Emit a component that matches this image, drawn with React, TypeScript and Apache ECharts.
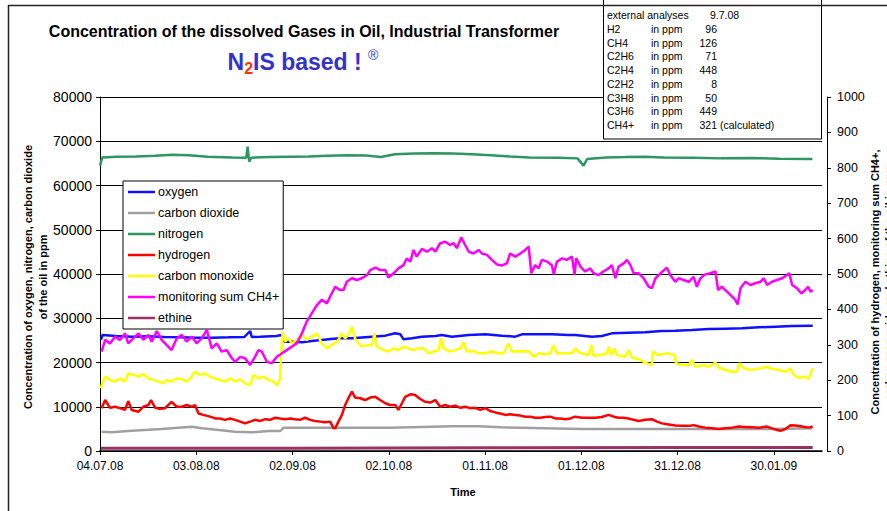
import React, { useEffect, useRef } from 'react';
import * as echarts from 'echarts';

const FONT = "'Liberation Sans', Arial, Helvetica, sans-serif";

// x values are days after 04.07.08
const xTickLabels = ['04.07.08', '03.08.08', '02.09.08', '02.10.08', '01.11.08', '01.12.08', '31.12.08', '30.01.09'];
const leftTicks = [0, 10000, 20000, 30000, 40000, 50000, 60000, 70000, 80000];
const rightTicks = [0, 100, 200, 300, 400, 500, 600, 700, 800, 900, 1000];

const seriesNames = ['oxygen', 'carbon dioxide', 'nitrogen', 'hydrogen', 'carbon monoxide', 'monitoring sum CH4+', 'ethine'];
const seriesColors = ['#1010ff', '#a0a0a0', '#2e9660', '#ff0000', '#ffff00', '#ff00ff', '#993366'];

const oxygen: [number, number][] = [[0.3,25090],[0.8,26220],[5,25990],[10,25840],[15,25920],[20,25770],[25,25690],[30,25620],[35,25620],[40,25690],[45,25770],[46.8,27120],[47.3,25770],[50,25840],[55,25990],[56.5,26220],[57.5,24710],[60,24710],[63,24560],[66,24860],[69,25090],[72,25310],[74.8,25460],[78.5,25460],[83.7,25770],[88.9,26070],[92,26590],[93.6,26370],[94.6,25240],[97.2,25460],[100.3,25840],[104.5,25990],[106.5,26220],[109.7,25840],[114.9,26220],[120.1,26370],[125.2,26070],[129.4,25840],[131.5,26370],[135.6,26370],[140.8,26370],[146,26220],[148.1,26220],[153.3,25840],[156.4,25990],[159.5,26590],[164.7,26750],[169.9,26820],[175.1,27120],[179.3,27200],[184.5,27350],[189.7,27570],[194.9,27650],[200.1,27720],[205.3,27950],[210.5,28100],[215.7,28250],[222.1,28330]];

const carbonDioxide: [number, number][] = [[0.5,4370],[3.6,4220],[8.8,4520],[14,4750],[19.2,4970],[24.4,5280],[28.6,5500],[31.7,5130],[37,4750],[42.1,4370],[47.3,4220],[52.5,4520],[56.2,4520],[57.2,5280],[63,5280],[69,5280],[75,5280],[90,5280],[100,5430],[110,5580],[118,5580],[125,5350],[135,5200],[150,4970],[165,4970],[180,4970],[195,4970],[210,4970],[222,5130]];

const nitrogen: [number, number][] = [[0,64500],[0.7,66350],[5.2,66500],[11.2,66570],[17.2,66720],[22.4,66930],[27.7,66860],[33.6,66500],[41.1,66350],[45.6,66280],[46,68760],[46.5,65400],[47.1,66280],[53.1,66420],[59.1,66500],[65,66570],[71,66720],[77,66860],[83,66790],[87.5,66420],[91.9,67080],[97.9,67230],[103.9,67300],[109.9,67230],[115.9,67080],[121.8,66860],[127.8,66570],[133.8,66350],[142.8,66280],[148.8,66130],[150.7,64500],[151.8,65990],[157.7,66350],[163.7,66420],[169.7,66500],[175.7,66350],[184.6,66280],[193.6,66130],[202.6,66200],[211.5,66060],[222,65990]];

const hydrogen: [number, number][] = [[0.5,121],[1.6,144],[3.1,122],[4.7,125],[6.2,121],[7.8,116],[8.8,141],[9.9,116],[12,111],[13.5,125],[15.1,130],[15.9,144],[17.2,122],[18.7,119],[20.3,121],[22.3,139],[23.9,125],[25.5,125],[27,130],[28.6,125],[29.6,130],[30.7,106],[32.2,102],[34.3,97],[35.9,92],[37.4,92],[39,88],[40.5,92],[42.1,88],[43.7,83],[45.2,78],[46.8,83],[48.3,88],[49.9,85],[51.5,90],[53,88],[54.6,94],[56.1,92],[57.7,90],[59.3,92],[60.8,90],[62.4,88],[63.9,94],[65.5,88],[67,85],[68.6,83],[70.2,81],[71.7,83],[72.8,64],[73.3,64],[74.3,83],[75.4,102],[76.4,130],[77.4,149],[78.5,168],[79.5,151],[81.1,149],[82.6,144],[84.2,151],[85.8,153],[87.3,144],[88.9,135],[90.4,130],[92,130],[93,116],[94.1,135],[95.1,153],[96.7,160],[98.2,158],[99.8,147],[101.3,139],[102.9,137],[104.5,144],[106,125],[107.6,130],[109.1,125],[110.7,128],[112.3,122],[113.8,125],[115.4,121],[116.9,122],[118.5,116],[120.1,121],[121.6,113],[123.2,109],[124.7,106],[126.3,102],[127.8,104],[129.4,102],[131,100],[132.5,97],[134.1,97],[135.6,94],[137.2,94],[138.8,96],[140.3,97],[141.9,92],[143.4,92],[145,90],[146.6,92],[148.1,97],[150.2,94],[152.3,94],[154.4,94],[156.4,96],[158.5,102],[160.1,97],[161.6,94],[163.2,94],[164.7,92],[166.3,88],[167.9,85],[169.9,88],[172,90],[173.6,83],[175.1,78],[177.2,75],[179.3,72],[181.4,71],[183.5,71],[185,73],[186.6,69],[188.6,66],[190.7,64],[192.8,62],[194.9,64],[197,66],[199,69],[201.1,68],[203.2,67],[205.3,66],[207.9,69],[210,62],[212,57],[213.6,62],[215.2,73],[216.7,72],[218.8,69],[220.9,66],[222.1,69]];

const carbonMonoxide: [number, number][] = [[0.3,177],[0.5,186],[1.6,210],[3.1,201],[4.7,196],[6.2,205],[7.8,196],[8.8,219],[10.4,215],[12,210],[13.5,217],[15.1,205],[16.6,201],[18.2,196],[19.8,191],[20.8,201],[22.3,196],[23.9,205],[25.5,203],[27,196],[28.6,210],[29.6,224],[31.2,215],[32.7,219],[34.3,210],[35.9,205],[37.4,201],[39,196],[40.5,205],[42.1,196],[43.7,203],[45.2,191],[46.8,186],[47.8,215],[49.4,205],[50.9,210],[52.5,201],[54.1,196],[55.1,186],[56.1,205],[56.4,262],[56.9,337],[57.7,309],[58.7,318],[59.8,304],[61.3,314],[62.9,328],[64.4,314],[66,323],[67.6,332],[69.1,304],[70.7,290],[72.2,299],[73.8,309],[74.3,314],[75.4,332],[76.4,318],[77.4,328],[78.5,351],[79.5,318],[80.6,304],[81.6,295],[83.2,299],[84.7,299],[85.5,332],[86.3,295],[88.4,285],[89.9,281],[91.5,290],[93,285],[94.6,295],[96.1,290],[97.7,285],[99.3,290],[100.8,290],[102.4,276],[103.9,281],[105.5,285],[106.3,318],[107.1,290],[109.1,281],[110.7,285],[112.3,290],[113.3,307],[114.3,281],[116.4,282],[118,276],[120.1,276],[122.1,281],[124.2,276],[125.8,276],[127.3,304],[128.4,281],[130.4,282],[132,281],[133.6,282],[135.1,266],[136.7,276],[138.8,273],[140.3,276],[141.4,299],[142.4,276],[145,276],[147.1,276],[148.1,290],[149.7,276],[152.3,271],[153.1,299],[153.8,269],[155.9,271],[158,276],[158.5,295],[159.3,271],[160.4,290],[161.1,271],[163.7,266],[164.7,285],[165.8,264],[167.9,259],[170,250],[171.5,243],[172,245],[172.3,281],[173.6,271],[175.1,273],[176.7,276],[178.3,273],[179.1,271],[179.5,248],[181.4,243],[183.5,243],[184.5,257],[185.5,238],[188.1,243],[189.7,238],[191.8,250],[192.8,235],[194.9,229],[197,224],[198.5,224],[199.2,248],[200.6,234],[202.7,229],[204.2,232],[206.3,234],[207.9,238],[209.4,232],[211.5,229],[213.6,224],[215.2,234],[216.2,215],[217.7,207],[219.3,210],[220.9,205],[222.1,234]];

const ch4Sum: [number, number][] = [[0.5,281],[1.6,314],[3.1,304],[4.7,323],[6.2,314],[7.8,332],[8.8,304],[10.4,318],[12,332],[13.5,314],[15.1,328],[16.1,309],[17.7,339],[19.2,314],[20.8,299],[22.3,285],[23.9,318],[25.5,328],[27,309],[28.6,323],[30.1,304],[31.7,318],[33.3,342],[34.8,290],[36.4,304],[37.9,281],[39.5,285],[41.1,262],[42.1,252],[43.7,266],[45.2,262],[46.8,243],[48.3,266],[49.4,285],[50.4,281],[52,252],[53.5,248],[55.1,266],[56.7,276],[58.2,285],[59.8,295],[61.3,304],[62.9,332],[64.4,365],[66,389],[67.6,412],[69.1,427],[70.7,417],[72.2,445],[73.3,464],[74.8,455],[75.9,455],[76.9,478],[78.5,488],[80,483],[81.6,488],[83.2,497],[84.2,511],[85.8,518],[87.3,511],[88.9,511],[89.9,490],[91.5,502],[93,516],[94.6,525],[95.6,544],[96.7,535],[97.7,568],[98.7,549],[100.3,571],[101.9,563],[103.4,573],[104.5,563],[106,587],[107.6,591],[109.1,582],[110.2,587],[111.2,573],[112.6,603],[113.8,582],[114.9,563],[116.4,558],[118,568],[119,558],[120.6,554],[122.1,540],[123.7,527],[125.2,524],[126.8,530],[127.8,558],[129.4,549],[131,558],[132.5,568],[133.6,577],[134.4,502],[135.6,525],[136.7,516],[137.7,540],[139.3,535],[140.8,525],[141.4,499],[142.4,535],[144,544],[145.5,540],[147.1,549],[147.9,497],[148.4,545],[149.7,521],[151.2,507],[152.8,516],[153.8,502],[155.4,497],[156.9,507],[158.5,516],[159.5,525],[160.6,488],[161.6,521],[163.2,530],[164.2,540],[165.3,525],[166.3,502],[167.9,502],[169.4,488],[171,464],[172,460],[173.1,488],[174.1,497],[175.3,507],[176.7,518],[177.7,497],[179.3,478],[180.3,488],[181.9,483],[183.5,478],[185,492],[186,464],[187.1,488],[188.6,499],[190.2,502],[191.8,507],[192.6,455],[193.8,464],[195.4,450],[197,436],[198,427],[198.7,414],[199.6,460],[201.1,478],[202.7,469],[204.2,474],[205.8,478],[206.8,488],[207.9,469],[209.4,478],[211,483],[212.6,488],[214.1,497],[214.8,502],[215.7,469],[217.2,460],[218.6,445],[219.8,455],[220.7,464],[221.4,450],[222.1,455]];

const ethine: [number, number][] = [[0.3,8],[60,8],[120,9],[180,10],[222.1,10]];

const tableHeader = ['external analyses', '9.7.08'];
const tableGases = ['H2', 'CH4', 'C2H6', 'C2H4', 'C2H2', 'C3H8', 'C3H6', 'CH4+'];
const tableValues = [96, 126, 71, 448, 8, 50, 449, 321];

export default function App() {
  const ref = useRef<HTMLDivElement>(null);
  useEffect(() => {
    if (!ref.current) return;
    const chart = echarts.init(ref.current, null, { renderer: 'svg' });
    const allData = [oxygen, carbonDioxide, nitrogen, hydrogen, carbonMonoxide, ch4Sum, ethine];
    const axisIdx = [0, 0, 0, 1, 1, 1, 1];
    const widths = [2.5, 2.5, 2.5, 2.5, 2.5, 2.5, 3];

    const tableEls: any[] = [
      { type: 'rect', z: 20, shape: { x: 603.5, y: -1, width: 218, height: 140 }, style: { fill: '#fff', stroke: '#000', lineWidth: 1 } },
      { type: 'text', z: 21, x: 607, y: 15, style: { text: tableHeader[0], font: `10.5px ${FONT}`, fill: '#000', textVerticalAlign: 'middle' } },
      { type: 'text', z: 21, x: 710, y: 15, style: { text: tableHeader[1], font: `10.5px ${FONT}`, fill: '#000', textVerticalAlign: 'middle' } },
    ];
    tableGases.forEach((g, i) => {
      const y = 15 + 13.75 * (i + 1);
      tableEls.push({ type: 'text', z: 21, x: 607, y, style: { text: g, font: `10.5px ${FONT}`, fill: '#000', textVerticalAlign: 'middle' } });
      tableEls.push({ type: 'text', z: 21, x: 651, y, style: { text: 'in ppm', font: `10.5px ${FONT}`, fill: '#000', textVerticalAlign: 'middle' } });
      tableEls.push({ type: 'text', z: 21, x: 717, y, style: { text: String(tableValues[i]), font: `10.5px ${FONT}`, fill: '#000', textAlign: 'right', textVerticalAlign: 'middle' } });
      if (g === 'CH4+') {
        tableEls.push({ type: 'text', z: 21, x: 720, y, style: { text: '(calculated)', font: `10.5px ${FONT}`, fill: '#000', textVerticalAlign: 'middle' } });
      }
    });

    chart.setOption({
      animation: false,
      backgroundColor: '#fff',
      textStyle: { fontFamily: FONT },
      grid: { left: 100, right: 65, top: 97, bottom: 60 },
      legend: {
        orient: 'vertical',
        left: 123,
        top: 181,
        data: seriesNames,
        icon: 'rect',
        itemWidth: 27,
        itemHeight: 2.5,
        itemGap: 7,
        padding: [4, 4, 4, 5],
        backgroundColor: '#fff',
        borderColor: '#000',
        borderWidth: 1,
        borderRadius: 0,
        textStyle: { fontSize: 12.5, color: '#000', fontFamily: FONT, lineHeight: 14, padding: [0, 0, 0, -2] },
        selectedMode: false,
      },
      xAxis: {
        type: 'value',
        min: 0,
        max: 225,
        interval: 30,
        axisLine: { show: true, onZero: false, lineStyle: { color: '#000', width: 1.5 } },
        axisTick: { show: true, length: 4, lineStyle: { color: '#000' } },
        splitLine: { show: false },
        axisLabel: {
          color: '#000', fontSize: 12, margin: 9, fontFamily: FONT,
          showMaxLabel: false,
          formatter: (v: number) => xTickLabels[Math.round(v / 30)] ?? '',
        },
      },
      yAxis: [
        {
          type: 'value', min: 0, max: 80000, interval: 10000,
          axisLine: { show: true, lineStyle: { color: '#000' } },
          axisTick: { show: true, length: 4, lineStyle: { color: '#000' } },
          splitLine: { show: true, lineStyle: { color: '#000', width: 1 } },
          axisLabel: { color: '#000', fontSize: 14, margin: 8, fontFamily: FONT, formatter: (v: number) => String(leftTicks[Math.round(v / 10000)]) },
        },
        {
          type: 'value', min: 0, max: 1000, interval: 100, position: 'right', offset: 5,
          axisLine: { show: true, lineStyle: { color: '#000' } },
          axisTick: { show: true, length: 4, lineStyle: { color: '#000' } },
          splitLine: { show: false },
          axisLabel: { color: '#000', fontSize: 12.5, margin: 10, fontFamily: FONT, formatter: (v: number) => String(rightTicks[Math.round(v / 100)]) },
        },
      ],
      series: seriesNames.map((name, i) => ({
        name,
        type: 'line',
        yAxisIndex: axisIdx[i],
        data: allData[i],
        showSymbol: false,
        symbol: 'none',
        lineStyle: { color: seriesColors[i], width: widths[i] },
        itemStyle: { color: seriesColors[i] },
        z: 2 + i,
      })),
      graphic: [
        { type: 'rect', z: 30, shape: { x: 8.5, y: 5.5, width: 1000, height: 1000 }, style: { fill: 'none', stroke: '#222', lineWidth: 1.5 } },
        { type: 'text', z: 30, x: 304, y: 31, style: { text: 'Concentration of the dissolved Gases in Oil, Industrial Transformer', font: `bold 16px ${FONT}`, fill: '#000', textAlign: 'center', textVerticalAlign: 'middle' } },
        {
          type: 'text', z: 30, x: 303, y: 62,
          style: {
            text: '{a|N}{b|2}{a|IS based ! }{c|®}',
            textAlign: 'center', textVerticalAlign: 'middle',
            rich: {
              a: { fontFamily: FONT, fontWeight: 'bold', fontSize: 23, fill: '#3333cc', lineHeight: 28 },
              b: { fontFamily: FONT, fontWeight: 'bold', fontSize: 16, fill: '#ff3300', lineHeight: 18, verticalAlign: 'bottom' },
              c: { fontFamily: FONT, fontSize: 14, fill: '#3333cc', lineHeight: 15, verticalAlign: 'top' },
            },
          },
        },
        ...tableEls,
        {
          type: 'text', z: 30, x: 35.5, y: 277, rotation: Math.PI / 2,
          style: { text: 'Concentration of oxygen, nitrogen, carbon dioxide\nof the oil in ppm', font: `bold 11px ${FONT}`, fill: '#000', textAlign: 'center', textVerticalAlign: 'middle', lineHeight: 15 },
        },
        {
          type: 'text', z: 30, x: 882, y: 282, rotation: Math.PI / 2,
          style: { text: 'Concentration of hydrogen, monitoring sum CH4+,\ncarbon monoxide and ethine of the oil in ppm', font: `bold 11px ${FONT}`, fill: '#000', textAlign: 'center', textVerticalAlign: 'middle', lineHeight: 14 },
        },
        { type: 'text', z: 30, x: 463, y: 492, style: { text: 'Time', font: `bold 11px ${FONT}`, fill: '#000', textAlign: 'center', textVerticalAlign: 'middle' } },
      ],
    });
    return () => chart.dispose();
  }, []);
  return <div ref={ref} style={{ position: 'absolute', left: 0, top: 0, width: 887, height: 511 }} />;
}
